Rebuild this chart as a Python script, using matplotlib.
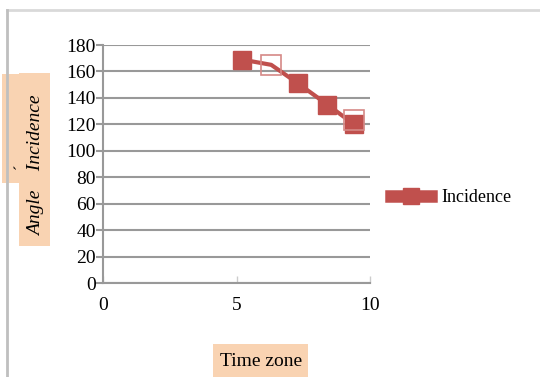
import matplotlib.pyplot as plt
from matplotlib.patches import Rectangle
from matplotlib.lines import Line2D

plt.rcParams['font.family'] = ['Liberation Serif', 'DejaVu Serif']

time_zone = [5.2, 6.3, 7.3, 8.4, 9.4]
incidence = [169, 165, 151, 135, 120]
filled_idx = [0, 2, 3, 4]
hollow_x = [6.3, 9.4]
hollow_y = [165, 123]
x_ticks = [0, 5, 10]
y_ticks = list(range(0, 181, 20))

red = '#C0504D'
grid = '#999999'
peach = '#F9D3B2'

W, H = 540, 377
fig = plt.figure(figsize=(W / 100, H / 100), dpi=100)

def fx(px):
    return px / W

def fy(py):
    return 1 - py / H

# outer chart frame (top and left edges only)
fig.add_artist(Line2D([fx(7), 1], [fy(10), fy(10)], color='#d9d9d9', lw=2))
fig.add_artist(Line2D([fx(7), fx(7)], [fy(10), 0], color='#bfbfbf', lw=2))

ax = fig.add_axes([fx(103), fy(283), fx(370) - fx(103), fy(45) - fy(283)])
ax.plot(time_zone, incidence, color=red, lw=3, marker='s', ms=13,
        mfc=red, mec=red, markevery=filled_idx, label='Incidence', zorder=3)
ax.plot(hollow_x, hollow_y, ls='none', marker='s', ms=14, mfc='none',
        mec='#d58986', mew=1.2, zorder=4)

ax.set_xlim(0, 10)
ax.set_ylim(0, 180)
ax.set_xticks(x_ticks)
ax.set_yticks(y_ticks)
ax.yaxis.grid(True, color=grid, lw=1.5)
ax.set_axisbelow(True)
for s in ['top', 'right']:
    ax.spines[s].set_visible(False)
for s in ['left', 'bottom']:
    ax.spines[s].set_color(grid)
    ax.spines[s].set_linewidth(1.5)
ax.tick_params(axis='y', direction='out', length=5, width=1.5, color=grid,
               labelsize=14, pad=0)
ax.tick_params(axis='x', direction='in', length=5, width=1, color='#cccccc',
               labelsize=14, pad=10)

# legend to the right of the plot
leg = ax.legend(loc='center left', bbox_to_anchor=(fx(375), fy(198)),
                bbox_transform=fig.transFigure, frameon=False, fontsize=13,
                handlelength=2.2, handletextpad=0.6)
for h in leg.legend_handles:
    h.set_linewidth(9)
    h.set_markersize(12)

# axis title boxes
fig.add_artist(Rectangle((fx(2), fy(183)), fx(48), fy(74) - fy(183),
                         color=peach, lw=0))
fig.add_artist(Rectangle((fx(19), fy(246)), fx(31), fy(73) - fy(246),
                         color=peach, lw=0))
fig.text(fx(37), fy(166), 'Angle    Incidence', rotation=90, style='italic',
         fontsize=14, ha='center', va='center')
fig.text(fx(21), fy(166), 'ˊ', rotation=90, fontsize=12, ha='center',
         va='center')

fig.add_artist(Rectangle((fx(213), 0), fx(95), fy(344), color=peach, lw=0))
fig.text(fx(261), fy(362), 'Time zone', fontsize=14, ha='center',
         va='center')

fig.savefig('out.png', dpi=100)
